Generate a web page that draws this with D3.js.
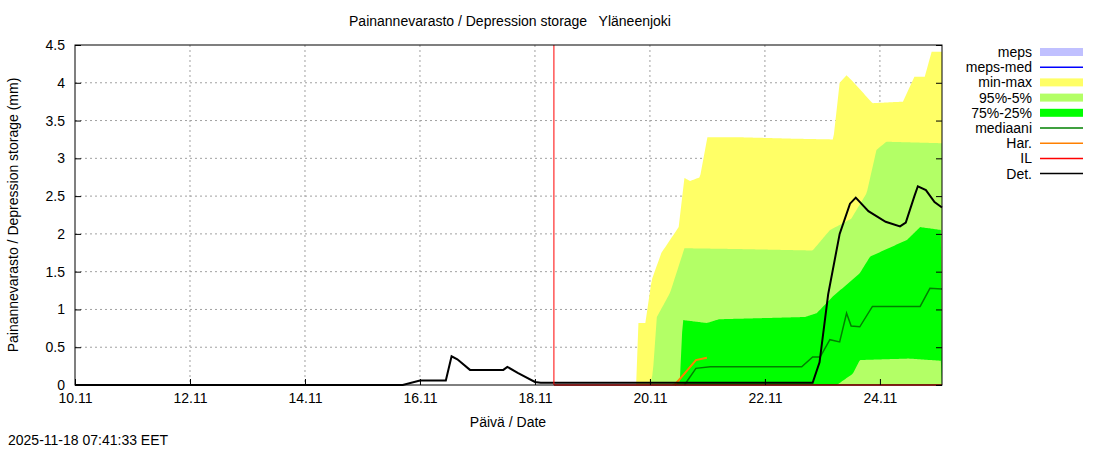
<!DOCTYPE html>
<html><head><meta charset="utf-8">
<script src="https://cdn.jsdelivr.net/npm/d3@7"></script>
<style>body{margin:0;background:#fff}text{font-family:"Liberation Sans",Arial,sans-serif;font-size:14px;white-space:pre}</style>
</head><body><svg id="c" width="1100" height="450"></svg>
<script>
// time in days since 10.11 00:00
var tickDays = [0, 2, 4, 6, 8, 10, 12, 14]
var tickLabels = ['10.11', '12.11', '14.11', '16.11', '18.11', '20.11', '22.11', '24.11']
var yTicks = [0, 0.5, 1, 1.5, 2, 2.5, 3, 3.5, 4, 4.5]
var nowDay = 8.33
var endDay = 15.08

var minMax = [[9.76,0],[9.8,0.82],[9.92,0.82],[10.03,1.39],[10.2,1.75],[10.5,2.09],[10.6,2.74],[10.7,2.7],[10.87,2.75],[11.0,3.28],[11.5,3.28],[12.5,3.26],[13.19,3.25],[13.3,4.0],[13.42,4.1],[13.55,4.0],[13.87,3.73],[14.4,3.75],[14.6,4.08],[14.78,4.08],[14.9,4.41],[15.08,4.41]]
var p95 = [[10.0,0],[10.05,0.15],[10.12,0.9],[10.35,1.22],[10.6,1.81],[11.5,1.8],[12.83,1.78],[13.13,2.05],[13.5,2.2],[13.77,2.54],[13.94,3.11],[14.11,3.22],[15.08,3.2]]
var p75 = [[10.38,0],[10.52,0.05],[10.57,0.86],[10.99,0.82],[11.2,0.87],[12.7,0.9],[12.9,0.95],[13.18,1.17],[13.65,1.48],[13.83,1.7],[14.47,1.92],[14.7,2.09],[15.08,2.05]]
var p25 = [[13.25,0],[13.53,0.15],[13.65,0.33],[14.5,0.35],[15.08,0.32]]
var median = [[10.6,0],[10.8,0.22],[11.05,0.24],[12.64,0.24],[12.83,0.37],[12.96,0.37],[13.13,0.6],[13.3,0.57],[13.42,0.95],[13.5,0.78],[13.65,0.77],[13.87,1.04],[14.7,1.04],[14.87,1.28],[15.08,1.27]]
var har = [[10.43,0],[10.6,0.15],[10.8,0.33],[10.99,0.36]]
var il = [[8.33,0],[15.08,0]]
var det = [[0,0],[5.7,0],[6.0,0.06],[6.45,0.06],[6.55,0.38],[6.65,0.34],[6.87,0.2],[7.45,0.2],[7.52,0.24],[7.7,0.16],[8.0,0.04],[8.1,0.03],[12.83,0.03],[12.95,0.3],[13.1,1.2],[13.3,2.0],[13.48,2.4],[13.58,2.48],[13.8,2.3],[14.1,2.16],[14.35,2.1],[14.45,2.15],[14.6,2.5],[14.66,2.63],[14.8,2.58],[14.95,2.42],[15.08,2.35]]

var svg = d3.select('#c')
var L = 75, R = 942, T = 45, B = 385
var x = d3.scaleLinear().domain([0, endDay]).range([L, R])
var y = d3.scaleLinear().domain([0, 4.5]).range([B, T])

// grid
svg.selectAll('.gx').data(tickDays.slice(1)).enter().append('line')
  .attr('x1', d => x(d)).attr('x2', d => x(d)).attr('y1', T).attr('y2', B)
  .attr('stroke', '#a0a0a0').attr('stroke-dasharray', '2,3')
svg.selectAll('.gy').data(yTicks.slice(1, -1)).enter().append('line')
  .attr('x1', L).attr('x2', R).attr('y1', d => y(d)).attr('y2', d => y(d))
  .attr('stroke', '#a0a0a0').attr('stroke-dasharray', '2,3')

// bands
var stepVal = function(arr, t){
  if (t < arr[0][0] || t > arr[arr.length-1][0]) return 0
  for (var i = 1; i < arr.length; i++) if (arr[i][0] >= t) {
    var a = arr[i-1], b = arr[i]
    return a[1] + (b[1]-a[1]) * (t-a[0]) / (b[0]-a[0] || 1)
  }
  return arr[arr.length-1][1]
}
var band = function(top, bottom, color){
  var ts = d3.range(top[0][0], endDay + 0.001, 0.02)
  var area = d3.area().x(d => x(d)).y0(d => y(bottom ? stepVal(bottom, d) : 0)).y1(d => y(stepVal(top, d)))
  svg.append('path').datum(ts).attr('d', area).attr('fill', color)
}
band(minMax, null, '#ffff66')
band(p95, null, '#b3ff66')
band(p75, p25, '#00ff00')

var line = d3.line().x(d => x(d[0])).y(d => y(d[1]))
var drawLine = function(data, color, w){
  svg.append('path').datum(data).attr('d', line).attr('fill', 'none').attr('stroke', color).attr('stroke-width', w)
}
drawLine(median, '#008000', 1.5)
drawLine(har, '#ff8000', 2)
drawLine(il, '#ff0000', 1.5)
drawLine(det, '#000000', 2)

// now line
svg.append('line').attr('x1', x(nowDay)).attr('x2', x(nowDay)).attr('y1', T).attr('y2', B).attr('stroke', '#ff0000')

// frame + axes
svg.append('rect').attr('x', L).attr('y', T).attr('width', R-L).attr('height', B-T).attr('fill', 'none').attr('stroke', '#000')
var xa = svg.append('g').attr('transform', 'translate(0,' + B + ')')
  .call(d3.axisBottom(x).tickValues(tickDays).tickFormat((d, i) => tickLabels[i]).tickSize(-6).tickPadding(8))
var ya = svg.append('g').attr('transform', 'translate(' + L + ',0)')
  .call(d3.axisLeft(y).tickValues(yTicks).tickFormat(d => d).tickSize(-6).tickPadding(10))
;[xa, ya].forEach(g => { g.select('.domain').remove(); g.selectAll('text').style('font-size', '14px').attr('fill', '#000') })
svg.append('g').attr('transform', 'translate(' + R + ',0)')
  .call(d3.axisRight(y).tickValues(yTicks).tickFormat('').tickSize(-6)).select('.domain').remove()

svg.append('text').attr('x', 510).attr('y', 26).attr('text-anchor', 'middle').text('Painannevarasto / Depression storage   Yläneenjoki')
svg.append('text').attr('x', 508).attr('y', 427).attr('text-anchor', 'middle').text('Päivä / Date')
svg.append('text').attr('transform', 'translate(18,215) rotate(-90)').attr('text-anchor', 'middle').text('Painannevarasto / Depression storage (mm)')
svg.append('text').attr('x', 8).attr('y', 445).text('2025-11-18 07:41:33 EET')

// legend
var legNames = ['meps', 'meps-med', 'min-max', '95%-5%', '75%-25%', 'mediaani', 'Har.', 'IL', 'Det.']
var legColors = ['#c0c0ff', '#0000ff', '#ffff66', '#b3ff66', '#00ff00', '#008000', '#ff8000', '#ff0000', '#000000']
var legBox = [true, false, true, true, true, false, false, false, false]
legNames.forEach(function(n, i){
  var yy = 52 + i * 15.2
  svg.append('text').attr('x', 1032).attr('y', yy + 5).attr('text-anchor', 'end').text(n)
  if (legBox[i]) svg.append('rect').attr('x', 1040).attr('y', yy - 4).attr('width', 43).attr('height', 8).attr('fill', legColors[i])
  else svg.append('line').attr('x1', 1040).attr('x2', 1083).attr('y1', yy).attr('y2', yy).attr('stroke', legColors[i]).attr('stroke-width', 1.5)
})
</script></body></html>
